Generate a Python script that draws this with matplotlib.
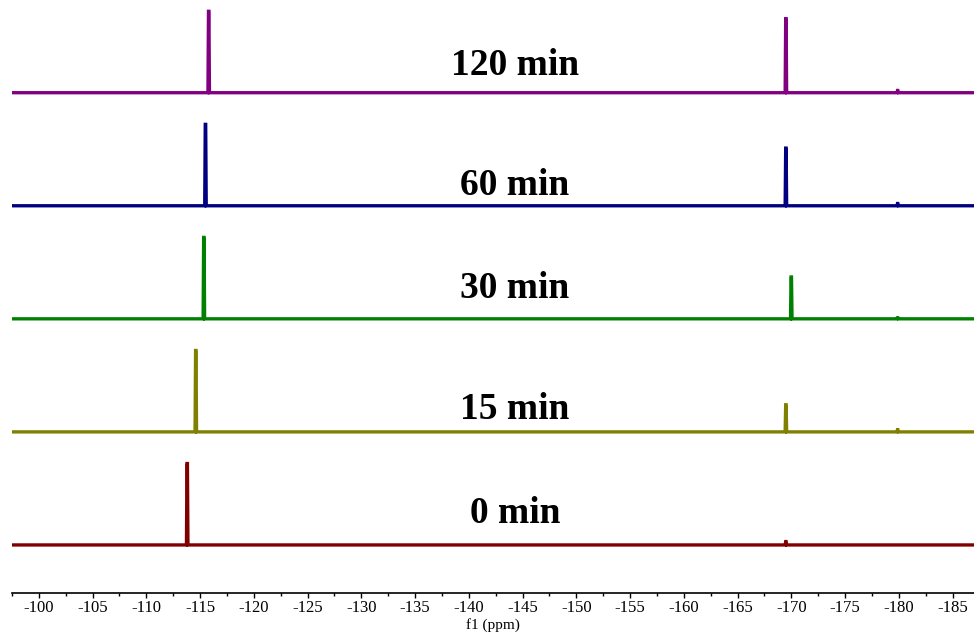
import matplotlib
matplotlib.use("Agg")
import matplotlib.pyplot as plt
import numpy as np
from matplotlib.ticker import MultipleLocator, FuncFormatter

# stacked 19F spectra, offsets are in units of one trace spacing
times = ["0 min", "15 min", "30 min", "60 min", "120 min"]
colors = ["#800000", "#808000", "#008000", "#000080", "#800080"]
offsets = [0, 1, 2, 3, 4]

# peak positions (ppm) and heights
left_ppm = [-113.8, -114.6, -115.35, -115.5, -115.8]
left_h = [0.72, 0.72, 0.72, 0.72, 0.72]
right_ppm = [-169.5, -169.5, -170.0, -169.5, -169.5]
right_h = [0.03, 0.24, 0.37, 0.51, 0.655]
bump_ppm = -179.9
bump_h = [0.0, 0.02, 0.01, 0.02, 0.02]

# label placement (ppm, height above baseline)
label_x = -144.3
label_dy = [0.275, 0.195, 0.265, 0.175, 0.245]

x_lo, x_hi = -97.5, -187.0

plt.rcParams['font.family'] = ['Liberation Serif', 'DejaVu Serif']

fig = plt.figure(figsize=(9.74, 6.36), dpi=100)
ax = fig.add_axes([12/974, 43/636, 962/974, 593/636])

w = 0.07
for i in range(len(times)):
    pk = sorted([(left_ppm[i], left_h[i]), (right_ppm[i], right_h[i]), (bump_ppm, bump_h[i])],
                reverse=True)
    xs = [x_lo]
    ys = [0]
    for p, h in pk:
        xs += [p + w, p + 0.02, p - 0.02, p - w]
        ys += [0, h, h, 0]
    xs.append(x_hi)
    ys.append(0)
    ax.plot(xs, np.array(ys) + offsets[i], color=colors[i], lw=2.4, solid_joinstyle='miter')
    ax.text(label_x, offsets[i] + label_dy[i], times[i], ha='center', va='center',
            fontsize=27, fontweight='bold', color='black')

ax.set_xlim(x_lo, x_hi)
ax.set_ylim(-0.425, 4.82)
for s in ['top', 'left', 'right']:
    ax.spines[s].set_visible(False)
ax.spines['bottom'].set_linewidth(1.2)
ax.set_yticks([])
ax.xaxis.set_major_locator(MultipleLocator(5))
ax.xaxis.set_minor_locator(MultipleLocator(2.5))
ax.xaxis.set_major_formatter(FuncFormatter(lambda v, p: "%d" % round(v)))
ax.tick_params(axis='x', which='major', length=3.5, width=1, labelsize=12, pad=1.5)
ax.tick_params(axis='x', which='minor', length=2, width=1)
ax.set_xlabel("f1 (ppm)", fontsize=11, labelpad=1.5)

fig.savefig("out.png", dpi=100)
